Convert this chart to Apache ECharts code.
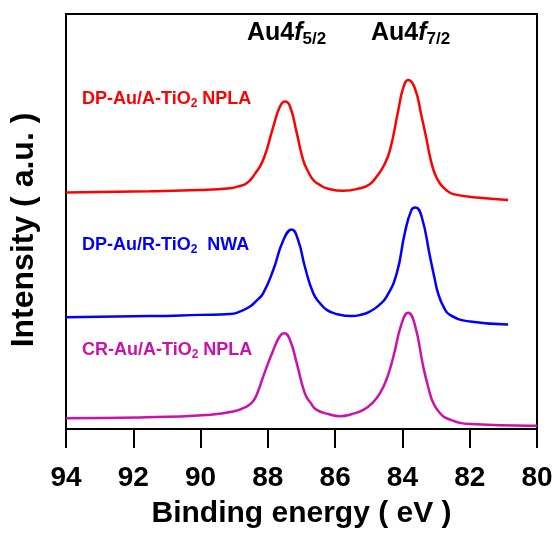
<!DOCTYPE html>
<html>
<head>
<meta charset="utf-8">
<script src="https://cdn.jsdelivr.net/npm/echarts@6/dist/echarts.min.js"></script>
<style>
  html, body { margin: 0; padding: 0; background: #fff; }
  #chart { width: 560px; height: 534px; }
</style>
</head>
<body>
<div id="chart"></div>
<script>
// binding energy (eV) / intensity (a.u., offset per sample)
const energyRed = [94, 91.5, 90.0, 89.13, 88.9, 88.63, 88.4, 88.14, 87.84, 87.64, 87.49, 87.34, 87.14, 86.95, 86.8, 86.65, 86.45, 86.25, 85.76, 85.26, 84.97, 84.77, 84.55, 84.37, 84.12, 83.98, 83.83, 83.63, 83.43, 83.3, 83.18, 83.05, 82.89, 82.7, 82.49, 81.70, 80.86]
const intensityRed = [57.0, 57.3, 57.6, 58.0, 58.4, 59.2, 61.3, 64.8, 72.8, 77.7, 78.9, 77.7, 71.3, 64.8, 62.0, 60.0, 58.8, 58.0, 57.4, 58.0, 59.0, 60.8, 63.5, 67.2, 76.9, 82.1, 84.1, 82.1, 75.3, 70.5, 65.6, 61.8, 59.2, 57.6, 56.6, 55.7, 55.2]

const energyBlue = [94, 91.5, 90.02, 89.13, 88.8, 88.53, 88.35, 88.14, 87.84, 87.54, 87.29, 87.10, 86.90, 86.65, 86.45, 86.25, 86.0, 85.51, 85.2, 84.97, 84.7, 84.47, 84.17, 83.93, 83.73, 83.61, 83.43, 83.18, 83.05, 82.94, 82.78, 82.59, 81.99, 80.86]
const intensityBlue = [26.9, 27.2, 27.5, 27.7, 28.4, 29.5, 30.8, 32.7, 38.3, 45.5, 48.1, 45.5, 39.1, 32.7, 30.3, 28.7, 27.8, 27.2, 27.6, 28.3, 29.8, 31.9, 37.5, 47.2, 52.8, 53.4, 51.2, 41.5, 36.5, 32.7, 29.5, 27.5, 25.9, 25.2]

const energyMag = [94, 91.8, 89.82, 89.03, 88.63, 88.44, 88.3, 88.14, 87.84, 87.64, 87.51, 87.34, 87.14, 86.90, 86.72, 86.55, 86.2, 85.86, 85.5, 85.16, 84.9, 84.67, 84.47, 84.27, 84.02, 83.83, 83.63, 83.38, 83.23, 83.08, 82.88, 82.69, 81.99, 80.21, 80.0]
const intensityMag = [2.6, 2.8, 3.4, 4.2, 5.4, 6.7, 8.9, 12.6, 19.0, 22.4, 23.1, 21.4, 15.8, 8.6, 6.2, 4.6, 3.6, 3.1, 3.6, 4.6, 6.2, 8.6, 12.0, 17.4, 25.5, 28.0, 25.1, 15.0, 10.0, 6.2, 3.8, 2.6, 1.2, 0.8, 0.8]

const sampleNames = ['DP-Au/A-TiO2 NPLA', 'DP-Au/R-TiO2  NWA', 'CR-Au/A-TiO2 NPLA']
const sampleColors = ['#ff0000', '#0000ff', '#cc10aa']

const zip = (xs, ys) => xs.map((x, i) => [x, ys[i]])
const font = 'Arial, "Liberation Sans", sans-serif'

const chart = echarts.init(document.getElementById('chart'))

const subLabel = (txt, color) => {
  // "TiO2" -> TiO{s|2}
  const parts = txt.split('2')
  return {
    text: '{m|' + parts[0] + '}{s|2}{m|' + parts[1] + '}',
    rich: {
      m: { fontSize: 18, fontWeight: 'bold', fontFamily: font, fill: color },
      s: { fontSize: 12, fontWeight: 'bold', fontFamily: font, fill: color, padding: [10, 0, 0, 0] }
    }
  }
}

const peakLabel = (sub) => ({
  text: '{m|Au4}{f|f}{s|' + sub + '}',
  rich: {
    m: { fontSize: 25, fontWeight: 'bold', fontFamily: font, fill: '#000' },
    f: { fontSize: 25, fontWeight: 'bold', fontStyle: 'italic', fontFamily: font, fill: '#000' },
    s: { fontSize: 17, fontWeight: 'bold', fontFamily: font, fill: '#000', padding: [12, 0, 0, 0] }
  }
})

const option = {
  animation: false,
  grid: {
    left: 66,
    right: 23,
    top: 14,
    bottom: 105,
    show: true,
    borderColor: '#000',
    borderWidth: 2
  },
  xAxis: {
    type: 'value',
    inverse: true,
    min: 80,
    max: 94,
    interval: 2,
    name: 'Binding energy ( eV )',
    nameLocation: 'middle',
    nameGap: 70,
    nameTextStyle: { fontSize: 30, fontWeight: 'bold', fontFamily: font, color: '#000' },
    axisLine: { lineStyle: { color: '#000', width: 2 } },
    axisTick: { inside: false, length: 19, lineStyle: { color: '#000', width: 2 } },
    axisLabel: { fontSize: 28, fontWeight: 'bold', fontFamily: font, color: '#000', margin: 35 },
    splitLine: { show: false }
  },
  yAxis: {
    type: 'value',
    min: 0,
    max: 100,
    name: 'Intensity ( a.u. )',
    nameLocation: 'middle',
    nameRotate: 90,
    nameGap: 26,
    nameTextStyle: { fontSize: 32, fontWeight: 'bold', fontFamily: font, color: '#000', padding: [0, 17, 0, 0] },
    axisLine: { show: true, lineStyle: { color: '#000', width: 2 } },
    axisTick: { show: false },
    axisLabel: { show: false },
    splitLine: { show: false }
  },
  series: [
    [energyRed, intensityRed],
    [energyBlue, intensityBlue],
    [energyMag, intensityMag]
  ].map(([xs, ys], i) => ({
    name: sampleNames[i],
    type: 'line',
    data: zip(xs, ys),
    smooth: 0.5,
    showSymbol: false,
    lineStyle: { color: sampleColors[i], width: 2.5 },
    itemStyle: { color: sampleColors[i] }
  })),
  graphic: [
    { type: 'text', left: 247, top: 21, style: peakLabel('5/2') },
    { type: 'text', left: 371, top: 21, style: peakLabel('7/2') },
    { type: 'text', left: 82, top: 90, style: subLabel(sampleNames[0], sampleColors[0]) },
    { type: 'text', left: 82, top: 236, style: subLabel(sampleNames[1], sampleColors[1]) },
    { type: 'text', left: 82, top: 341, style: subLabel(sampleNames[2], sampleColors[2]) }
  ]
}

chart.setOption(option)
</script>
</body>
</html>
